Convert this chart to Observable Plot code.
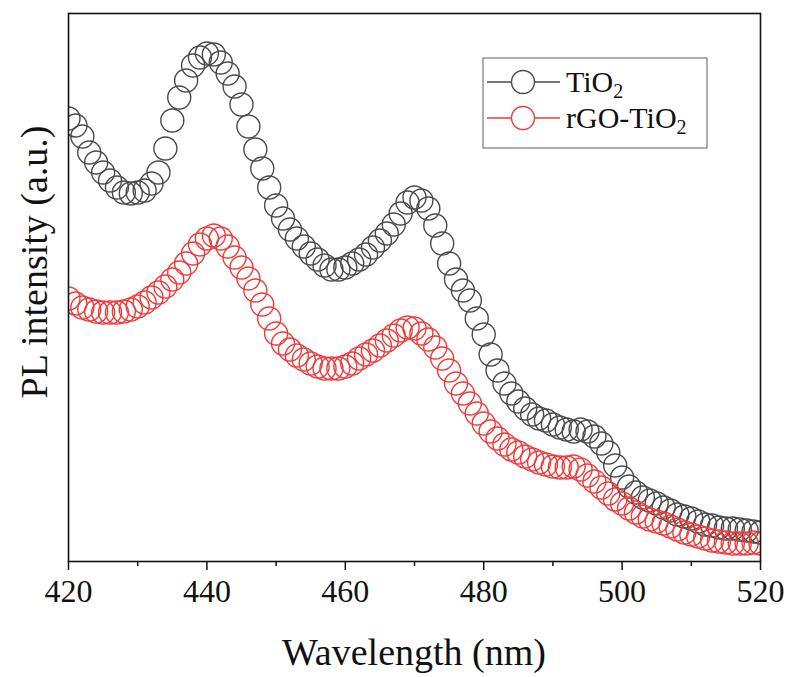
<!DOCTYPE html>
<html>
<head>
<meta charset="utf-8">
<script src="https://cdn.jsdelivr.net/npm/d3@7"></script>
<script src="https://cdn.jsdelivr.net/npm/@observablehq/plot@0.6"></script>
<style>
  html, body { margin: 0; padding: 0; background: #fff; }
  #chart { width: 791px; height: 677px; }
  #chart svg, #chart svg text { font-family: "Liberation Serif", "Times New Roman", serif !important; }
</style>
</head>
<body>
<div id="chart"></div>
<script>
// Wavelength grid (nm)
const wavelength = [420,421,422,423,424,425,426,427,428,429,430,431,432,433,434,435,436,437,438,439,440,441,442,443,444,445,446,447,448,449,450,451,452,453,454,455,456,457,458,459,460,461,462,463,464,465,466,467,468,469,470,471,472,473,474,475,476,477,478,479,480,481,482,483,484,485,486,487,488,489,490,491,492,493,494,495,496,497,498,499,500,501,502,503,504,505,506,507,508,509,510,511,512,513,514,515,516,517,518,519,520];

// PL intensity (a.u.), TiO2
const tio2 = [443,436,425,409,399,389,381,374,369,368,369,371,378,389,413,441,464,481,496,504,508,507,499,488,475,457,435,412,393,374,356,343,332,323,315,308,302,296,292,292,294,298,302,307,314,321,328,337,348,359,364,361,353,336,318,298,282,271,261,243,227,207,191,178,168,160,153,147,143,141,137,134,132,130,132,130,125,118,109,96,84,75,69,64,61,58,54,51,47,45,43,40,37,36,34,33,33,32,31,30,29];

// PL intensity (a.u.), rGO-TiO2
const rgoTio2 = [263,258,254,252,250,249,249,249,250,252,255,259,264,269,275,282,289,298,308,317,323,326,323,315,304,294,283,271,257,243,228,218,212,206,202,198,195,193,193,193,195,198,203,207,211,216,221,226,231,234,233,228,222,214,203,191,178,168,158,148,138,130,123,117,112,109,105,102,99,97,95,94,94,95,92,86,80,74,68,62,58,53,49,45,42,40,38,35,32,29,27,25,23,21,20,19,18,18,18,19,18];

const seriesNames = ["TiO2", "rGO-TiO2"];
const seriesColors = ["#4a4a4a", "#f03a3a"];
const majorTicks = [420, 440, 460, 480, 500, 520];
const minorTicks = [430, 450, 470, 490, 510];
const xLabel = "Wavelength (nm)";
const yLabel = "PL intensity (a.u.)";

const rows = [];
wavelength.forEach((w, i) => rows.push({w, v: tio2[i], s: seriesNames[0]}));
wavelength.forEach((w, i) => rows.push({w, v: rgoTio2[i], s: seriesNames[1]}));

const font = "Liberation Serif, Times New Roman, serif";
const W = 791, H = 677, mL = 68, mR = 31, mT = 13, mB = 116;

const plot = Plot.plot({
  width: W, height: H,
  marginLeft: mL, marginRight: mR, marginTop: mT, marginBottom: mB,
  style: {fontFamily: font, fontSize: "32px", color: "#111", background: "#fff"},
  x: {domain: [420, 520]},
  y: {domain: [0, 548], axis: null},
  color: {domain: seriesNames, range: seriesColors},
  marks: [
    Plot.dot(rows, {x: "w", y: "v", stroke: "s", r: 11.5, strokeWidth: 1.4, fill: "none", clip: true}),
    Plot.axisX({ticks: minorTicks, tickSize: 5, tickFormat: () => "", strokeWidth: 1.5, label: null}),
    Plot.axisX({ticks: majorTicks, tickSize: 9, tickPadding: 9, strokeWidth: 1.5, fontSize: 32, fontFamily: font, label: null, tickFormat: d => String(d)}),
    Plot.frame({stroke: "#111", strokeWidth: 1.6})
  ]
});
document.getElementById("chart").appendChild(plot);

const svg = d3.select(plot);
// axis titles
svg.append("text")
  .attr("x", mL + (W - mL - mR) / 2).attr("y", 665)
  .attr("text-anchor", "middle").attr("font-family", font)
  .style("font-size", "38px").attr("fill", "#111")
  .text(xLabel);
svg.append("text")
  .attr("transform", `translate(47,262) rotate(-90)`)
  .attr("text-anchor", "middle").attr("font-family", font)
  .style("font-size", "38px").attr("fill", "#111")
  .text(yLabel);

// legend
const lg = svg.append("g").attr("font-family", font).attr("text-anchor", "start");
lg.append("rect").attr("x", 483).attr("y", 58).attr("width", 224).attr("height", 90)
  .attr("fill", "#fff").attr("stroke", "#777").attr("stroke-width", 1.2);
const entries = [
  {name: "TiO", sub: "2", color: seriesColors[0], y: 82},
  {name: "rGO-TiO", sub: "2", color: seriesColors[1], y: 118}
];
entries.forEach(e => {
  lg.append("line").attr("x1", 487).attr("x2", 560).attr("y1", e.y).attr("y2", e.y)
    .attr("stroke", e.color).attr("stroke-width", 1.6);
  lg.append("circle").attr("cx", 523).attr("cy", e.y).attr("r", 11.5)
    .attr("fill", "#fff").attr("stroke", e.color).attr("stroke-width", 1.4);
  const t = lg.append("text").attr("x", 566).attr("y", e.y + 10)
    .attr("text-anchor", "start")
    .style("font-size", "30px").attr("fill", "#111");
  t.append("tspan").text(e.name);
  t.append("tspan").attr("dy", 6).style("font-size", "20px").text(e.sub);
});
</script>
</body>
</html>
